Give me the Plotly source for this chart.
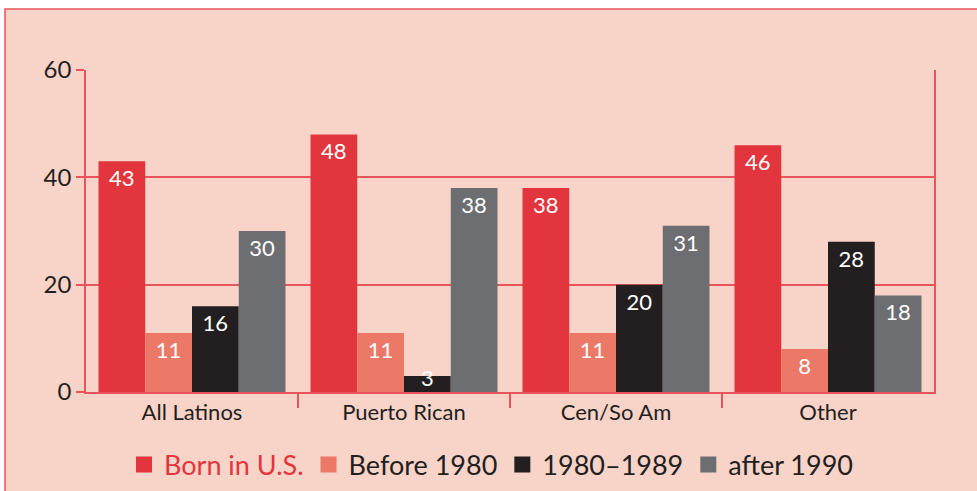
import plotly.graph_objects as go

categories = ["All Latinos", "Puerto Rican", "Cen/So Am", "Other"]
series_names = ["Born in U.S.", "Before 1980", "1980–1989", "after 1990"]
born_us = [43, 48, 38, 46]
before_1980 = [11, 11, 11, 8]
y1980_1989 = [16, 3, 20, 28]
after_1990 = [30, 38, 31, 18]
y_ticks = [0, 20, 40, 60]

colors = ["#e3353d", "#ec7868", "#231f20", "#6d6e71"]
values = [born_us, before_1980, y1980_1989, after_1990]
RED = "#e8545b"
PINK = "#f8d3c8"
INK = "#231f20"
FONT = "Lato"
BARGAP = 0.118
SMALL = 5  # values below this get their label drawn as an annotation

W, H = 977, 491
L, R, T, B = 86, 43, 70, 99
pw, ph = W - L - R, H - T - B

fig = go.Figure()
n_series = len(series_names)
bar_w = (1 - BARGAP) / n_series
for i, (name, vals, col) in enumerate(zip(series_names, values, colors)):
    fig.add_trace(go.Bar(
        x=categories, y=vals, name=name, showlegend=False,
        marker=dict(color=col, line=dict(width=0)),
        text=[str(v) if v >= SMALL else "" for v in vals],
        textposition="inside", insidetextanchor="end",
        constraintext="none",
        textfont=dict(color="white", size=22, family=FONT),
        textangle=0,
    ))
    # small values: label straddling the bar top
    for j, v in enumerate(vals):
        if v < SMALL:
            xc = j + (i + 0.5) * bar_w - (1 - BARGAP) / 2
            fig.add_annotation(x=xc, y=v, xref="x", yref="y", text=str(v),
                               showarrow=False, yanchor="middle", yshift=-2,
                               font=dict(color="white", size=22, family=FONT))

# legend entries (larger square swatches)
for i, (name, col) in enumerate(zip(series_names, colors)):
    label = f"<span style='color:{colors[0]}'>{name}</span>" if i == 0 else name
    fig.add_trace(go.Scatter(
        x=[None], y=[None], xaxis="x2", mode="markers", name=label,
        marker=dict(symbol="square", size=16, color=col, line=dict(width=0)),
        showlegend=True,
    ))

def px_x(p):
    return (p - L) / pw

def px_y(p):
    return (H - B - p) / ph

fig.add_shape(type="rect", xref="paper", yref="paper",
              x0=px_x(5), x1=px_x(W + 5), y0=px_y(H + 5), y1=px_y(9),
              fillcolor=PINK, line=dict(color=RED, width=1.5), layer="below")

fig.update_layout(
    width=W, height=H,
    margin=dict(l=L, r=R, t=T, b=B, autoexpand=False),
    paper_bgcolor="white", plot_bgcolor="rgba(0,0,0,0)",
    barmode="group", bargap=BARGAP, bargroupgap=0,
    font=dict(family=FONT, color=INK),
    showlegend=True,
    legend=dict(orientation="h", x=px_x(491), xanchor="center",
                y=px_y(465), yanchor="middle",
                font=dict(size=27, family=FONT, color=INK),
                bgcolor="rgba(0,0,0,0)", traceorder="normal",
                itemwidth=30, itemsizing="trace"),
    xaxis2=dict(overlaying="x", anchor="y", side="bottom", type="linear",
                range=[-0.5, len(categories) - 0.5],
                tickvals=[k + 0.5 for k in range(len(categories) - 1)],
                ticks="outside", ticklen=15, tickcolor=RED, tickwidth=1.5,
                showticklabels=False, showgrid=False, zeroline=False,
                showline=False),
)
fig.update_yaxes(range=[0, 60], tickvals=y_ticks, showgrid=True,
                 gridcolor=RED, gridwidth=1.5, zeroline=False,
                 showline=True, linecolor=RED, linewidth=1.5, mirror=True,
                 ticks="outside", ticklen=8, tickcolor=RED, tickwidth=1.5,
                 tickfont=dict(size=24, family=FONT, color=INK))
fig.update_layout(xaxis=dict(showline=True, linecolor=RED, linewidth=1.5,
                             ticks="", showgrid=False,
                             tickfont=dict(size=22, family=FONT, color=INK)))

fig.write_html("out.html", config={"displayModeBar": False},
               post_script="document.body.style.margin='0';")
